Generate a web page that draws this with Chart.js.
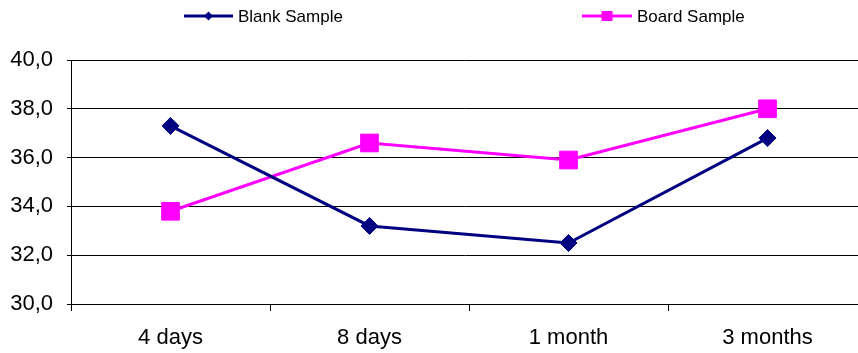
<!DOCTYPE html>
<html>
<head>
<meta charset="utf-8">
<script src="https://cdn.jsdelivr.net/npm/chart.js@4/dist/chart.umd.min.js"></script>
<style>
  html, body { margin: 0; padding: 0; background: #fff; overflow: hidden; }
  #grafico { display: block; width: 858px; height: 353px; }
</style>
</head>
<body>
<canvas id="grafico" width="858" height="353"></canvas>
<script>
// dados
const categorias = ["4 days", "8 days", "1 month", "3 months"];
const blankSample = [37.3, 33.2, 32.5, 36.8];
const boardSample = [33.8, 36.6, 35.9, 38.0];
const yTicks = [30, 32, 34, 36, 38, 40];

const FONTE = "Arial, 'Liberation Sans', sans-serif";

// no original a área do gráfico passa da borda direita (corte da imagem)
const AREA_DIREITA = 867;

const areaPlugin = {
  id: "areaDireita",
  afterLayout(chart) {
    const x = chart.scales.x;
    x.right = AREA_DIREITA;
    x.width = x.right - x.left;
    chart.chartArea.right = AREA_DIREITA;
    chart.chartArea.width = AREA_DIREITA - chart.chartArea.left;
    x.configure();
  }
};

// legenda desenhada à mão (linha + marcador no meio, como no Excel)
const legendaPlugin = {
  id: "legendaExcel",
  afterDraw(chart) {
    const ctx = chart.ctx;
    const itens = [
      { ds: chart.data.datasets[0], x0: 184, x1: 233, forma: "diamond" },
      { ds: chart.data.datasets[1], x0: 582, x1: 632, forma: "square" }
    ];
    const y = 16;
    ctx.save();
    itens.forEach(it => {
      const cor = it.ds.borderColor;
      ctx.strokeStyle = cor;
      ctx.lineWidth = 3;
      ctx.beginPath();
      ctx.moveTo(it.x0, y);
      ctx.lineTo(it.x1, y);
      ctx.stroke();
      const cx = (it.x0 + it.x1) / 2;
      ctx.fillStyle = cor;
      ctx.beginPath();
      if (it.forma === "diamond") {
        ctx.moveTo(cx - 4.5, y);
        ctx.lineTo(cx, y - 4.5);
        ctx.lineTo(cx + 4.5, y);
        ctx.lineTo(cx, y + 4.5);
        ctx.closePath();
      } else {
        ctx.rect(cx - 5.5, y - 5, 11, 10);
      }
      ctx.fill();
      ctx.fillStyle = "#000";
      ctx.font = "17px " + FONTE;
      ctx.textBaseline = "middle";
      ctx.textAlign = "left";
      ctx.fillText(it.ds.label, it.x1 + 5, y + 1);
    });
    ctx.restore();
  }
};

const ctx = document.getElementById("grafico").getContext("2d");
new Chart(ctx, {
  type: "line",
  data: {
    labels: categorias,
    datasets: [
      {
        label: "Blank Sample",
        data: blankSample,
        borderColor: "#000080",
        backgroundColor: "#000080",
        borderWidth: 3,
        pointStyle: "rectRot",
        pointRadius: 8.5,
        pointBorderWidth: 1,
        tension: 0,
        clip: false
      },
      {
        label: "Board Sample",
        data: boardSample,
        borderColor: "#FF00FF",
        backgroundColor: "#FF00FF",
        borderWidth: 3,
        pointStyle: "rect",
        pointRadius: 12.5,
        pointBorderWidth: 1,
        tension: 0,
        clip: false
      }
    ]
  },
  options: {
    responsive: false,
    animation: false,
    layout: { padding: { top: 60, right: 0, left: 0, bottom: 0 } },
    plugins: {
      legend: { display: false },
      tooltip: { enabled: false }
    },
    scales: {
      x: {
        offset: true,
        grid: { drawOnChartArea: false, drawTicks: true, tickLength: 7, color: "#000", offset: true },
        border: { color: "#000", width: 1 },
        ticks: { color: "#000", font: { family: FONTE, size: 22 }, padding: 14 },
        afterFit: s => { s.height = 49; }
      },
      y: {
        min: yTicks[0],
        max: yTicks[yTicks.length - 1],
        afterBuildTicks: s => { s.ticks = yTicks.map(v => ({ value: v })); },
        grid: { color: "#000", lineWidth: 1, tickLength: 4 },
        border: { color: "#000", width: 1 },
        ticks: {
          color: "#000",
          font: { family: FONTE, size: 22 },
          padding: 14,
          callback: v => Number(v).toFixed(1).replace(".", ",")
        },
        afterFit: s => { s.width = 71; }
      }
    }
  },
  plugins: [areaPlugin, legendaPlugin]
});
</script>
</body>
</html>
